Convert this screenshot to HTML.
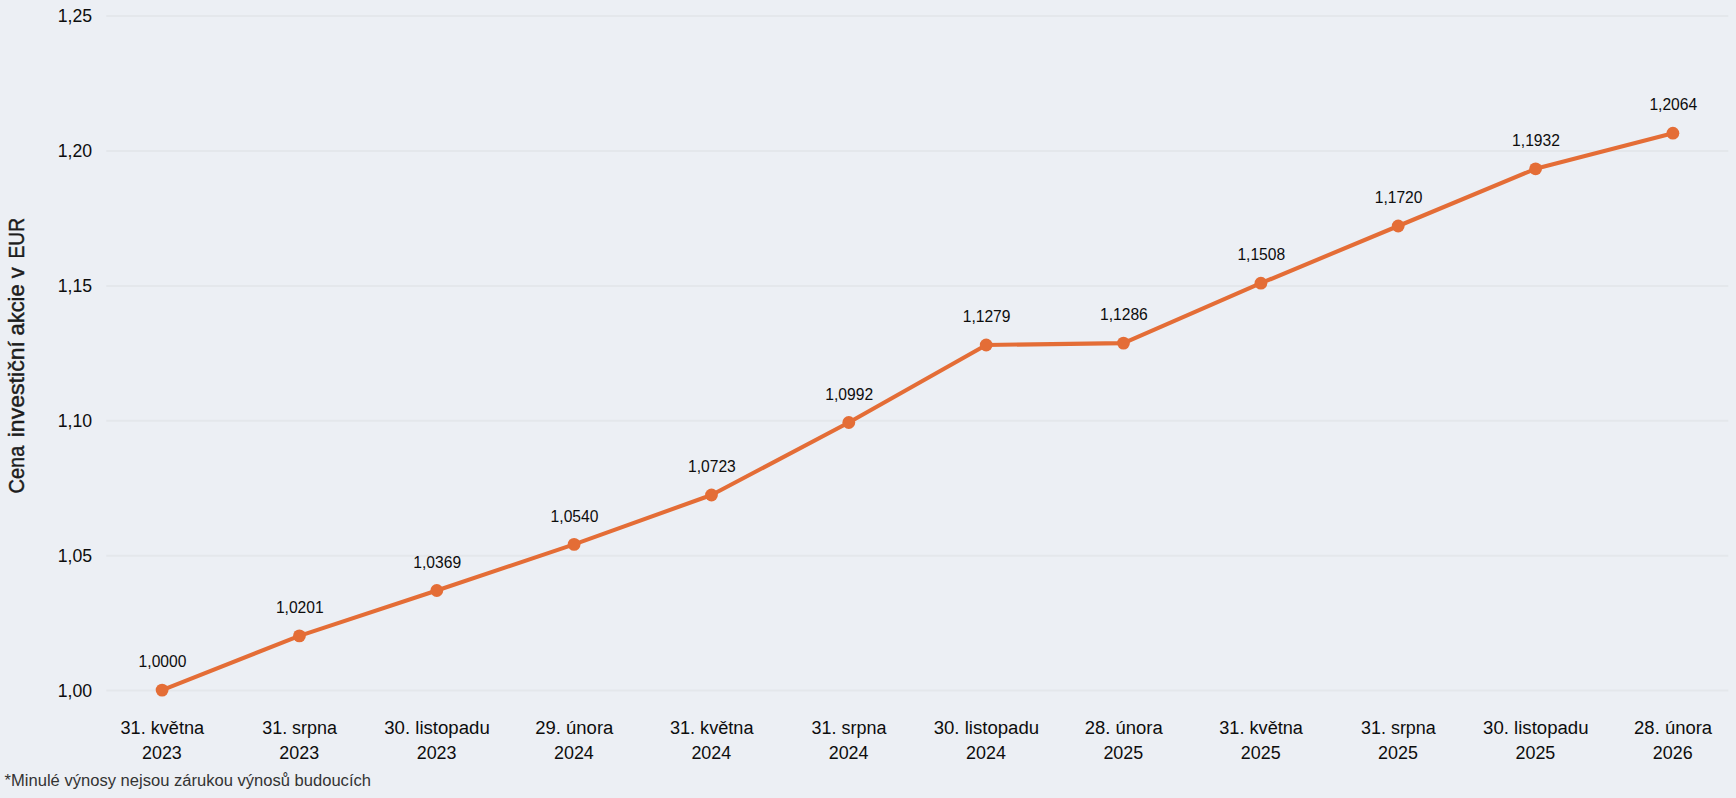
<!DOCTYPE html>
<html lang="cs">
<head>
<meta charset="utf-8">
<title>Cena investiční akcie v EUR</title>
<style>
html,body{margin:0;padding:0;background:#eceff4;}
body{width:1736px;height:798px;overflow:hidden;position:relative;font-family:"Liberation Sans", "DejaVu Sans", sans-serif;}
svg{position:absolute;left:0;top:0;display:block;}
text{font-family:"Liberation Sans", "DejaVu Sans", sans-serif;fill:#0d0d0d;}
.yt{font-size:18px;text-anchor:end;}
.xt{font-size:18px;text-anchor:middle;}
.dl{font-size:16px;text-anchor:middle;}
.ttl text{font-size:22px;text-anchor:start;fill:#1c1c1c;stroke:#1c1c1c;stroke-width:0.45px;}
.fn{font-size:16px;fill:#333333;}
</style>
</head>
<body>
<svg width="1736" height="798" viewBox="0 0 1736 798">
<rect x="0" y="0" width="1736" height="798" fill="#eceff4"/>

<g stroke="#e4e7eb" stroke-width="2">
<line x1="106.3" x2="1728.3" y1="690.6" y2="690.6"/>
<line x1="106.3" x2="1728.3" y1="555.7" y2="555.7"/>
<line x1="106.3" x2="1728.3" y1="420.8" y2="420.8"/>
<line x1="106.3" x2="1728.3" y1="285.9" y2="285.9"/>
<line x1="106.3" x2="1728.3" y1="151.0" y2="151.0"/>
<line x1="106.3" x2="1728.3" y1="16.1" y2="16.1"/>
</g>
<g class="yt">
<text x="92.2" y="696.5" textLength="34.4" lengthAdjust="spacingAndGlyphs">1,00</text>
<text x="92.2" y="561.6" textLength="34.4" lengthAdjust="spacingAndGlyphs">1,05</text>
<text x="92.2" y="426.7" textLength="34.4" lengthAdjust="spacingAndGlyphs">1,10</text>
<text x="92.2" y="291.8" textLength="34.4" lengthAdjust="spacingAndGlyphs">1,15</text>
<text x="92.2" y="156.9" textLength="34.4" lengthAdjust="spacingAndGlyphs">1,20</text>
<text x="92.2" y="22.0" textLength="34.4" lengthAdjust="spacingAndGlyphs">1,25</text>
</g>
<g class="ttl" transform="translate(24.1 492.7) rotate(-90)">
<text x="-0.8" y="0" textLength="47.9" lengthAdjust="spacingAndGlyphs">Cena</text>
<text x="55.4" y="0" textLength="96.3" lengthAdjust="spacingAndGlyphs">investiční</text>
<text x="157.2" y="0" textLength="51.2" lengthAdjust="spacingAndGlyphs">akcie</text>
<text x="214.4" y="0" textLength="10.9" lengthAdjust="spacingAndGlyphs">v</text>
<text x="234.2" y="0" textLength="40.5" lengthAdjust="spacingAndGlyphs">EUR</text>
</g>
<path d="M162.1 690.1 L299.4 635.9 L436.8 590.5 L574.1 544.4 L711.5 495.0 L848.8 422.5 L986.2 345.0 L1123.5 343.1 L1260.9 283.2 L1398.2 226.0 L1535.6 168.8 L1672.9 133.2" fill="none" stroke="#e46d36" stroke-width="4.1" stroke-linejoin="round" stroke-linecap="round"/>
<g fill="#e46d36">
<circle cx="162.1" cy="690.1" r="6.4"/>
<circle cx="299.4" cy="635.9" r="6.4"/>
<circle cx="436.8" cy="590.5" r="6.4"/>
<circle cx="574.1" cy="544.4" r="6.4"/>
<circle cx="711.5" cy="495.0" r="6.4"/>
<circle cx="848.8" cy="422.5" r="6.4"/>
<circle cx="986.2" cy="345.0" r="6.4"/>
<circle cx="1123.5" cy="343.1" r="6.4"/>
<circle cx="1260.9" cy="283.2" r="6.4"/>
<circle cx="1398.2" cy="226.0" r="6.4"/>
<circle cx="1535.6" cy="168.8" r="6.4"/>
<circle cx="1672.9" cy="133.2" r="6.4"/>
</g>
<g class="dl">
<text x="162.5" y="667.2" textLength="47.8" lengthAdjust="spacingAndGlyphs">1,0000</text>
<text x="299.8" y="613.0" textLength="47.8" lengthAdjust="spacingAndGlyphs">1,0201</text>
<text x="437.2" y="567.6" textLength="47.8" lengthAdjust="spacingAndGlyphs">1,0369</text>
<text x="574.5" y="521.5" textLength="47.8" lengthAdjust="spacingAndGlyphs">1,0540</text>
<text x="711.9" y="472.1" textLength="47.8" lengthAdjust="spacingAndGlyphs">1,0723</text>
<text x="849.2" y="399.6" textLength="47.8" lengthAdjust="spacingAndGlyphs">1,0992</text>
<text x="986.6" y="322.1" textLength="47.8" lengthAdjust="spacingAndGlyphs">1,1279</text>
<text x="1123.9" y="320.2" textLength="47.8" lengthAdjust="spacingAndGlyphs">1,1286</text>
<text x="1261.3" y="260.3" textLength="47.8" lengthAdjust="spacingAndGlyphs">1,1508</text>
<text x="1398.6" y="203.1" textLength="47.8" lengthAdjust="spacingAndGlyphs">1,1720</text>
<text x="1536.0" y="145.9" textLength="47.8" lengthAdjust="spacingAndGlyphs">1,1932</text>
<text x="1673.3" y="110.3" textLength="47.8" lengthAdjust="spacingAndGlyphs">1,2064</text>
</g>
<g class="xt">
<text x="162.3" y="733.6" textLength="83.6" lengthAdjust="spacingAndGlyphs">31. května</text>
<text x="161.9" y="758.6" textLength="39.8" lengthAdjust="spacingAndGlyphs">2023</text>
<text x="299.6" y="733.6" textLength="74.8" lengthAdjust="spacingAndGlyphs">31. srpna</text>
<text x="299.2" y="758.6" textLength="39.8" lengthAdjust="spacingAndGlyphs">2023</text>
<text x="437.0" y="733.6" textLength="105.5" lengthAdjust="spacingAndGlyphs">30. listopadu</text>
<text x="436.6" y="758.6" textLength="39.8" lengthAdjust="spacingAndGlyphs">2023</text>
<text x="574.3" y="733.6" textLength="78" lengthAdjust="spacingAndGlyphs">29. února</text>
<text x="573.9" y="758.6" textLength="39.8" lengthAdjust="spacingAndGlyphs">2024</text>
<text x="711.7" y="733.6" textLength="83.6" lengthAdjust="spacingAndGlyphs">31. května</text>
<text x="711.3" y="758.6" textLength="39.8" lengthAdjust="spacingAndGlyphs">2024</text>
<text x="849.0" y="733.6" textLength="74.8" lengthAdjust="spacingAndGlyphs">31. srpna</text>
<text x="848.6" y="758.6" textLength="39.8" lengthAdjust="spacingAndGlyphs">2024</text>
<text x="986.4" y="733.6" textLength="105.5" lengthAdjust="spacingAndGlyphs">30. listopadu</text>
<text x="986.0" y="758.6" textLength="39.8" lengthAdjust="spacingAndGlyphs">2024</text>
<text x="1123.7" y="733.6" textLength="78" lengthAdjust="spacingAndGlyphs">28. února</text>
<text x="1123.3" y="758.6" textLength="39.8" lengthAdjust="spacingAndGlyphs">2025</text>
<text x="1261.1" y="733.6" textLength="83.6" lengthAdjust="spacingAndGlyphs">31. května</text>
<text x="1260.7" y="758.6" textLength="39.8" lengthAdjust="spacingAndGlyphs">2025</text>
<text x="1398.4" y="733.6" textLength="74.8" lengthAdjust="spacingAndGlyphs">31. srpna</text>
<text x="1398.0" y="758.6" textLength="39.8" lengthAdjust="spacingAndGlyphs">2025</text>
<text x="1535.8" y="733.6" textLength="105.5" lengthAdjust="spacingAndGlyphs">30. listopadu</text>
<text x="1535.4" y="758.6" textLength="39.8" lengthAdjust="spacingAndGlyphs">2025</text>
<text x="1673.1" y="733.6" textLength="78" lengthAdjust="spacingAndGlyphs">28. února</text>
<text x="1672.7" y="758.6" textLength="39.8" lengthAdjust="spacingAndGlyphs">2026</text>
</g>
<text class="fn" x="4.6" y="785.7" textLength="366.4" lengthAdjust="spacingAndGlyphs">*Minulé výnosy nejsou zárukou výnosů budoucích</text>
</svg>
</body>
</html>
